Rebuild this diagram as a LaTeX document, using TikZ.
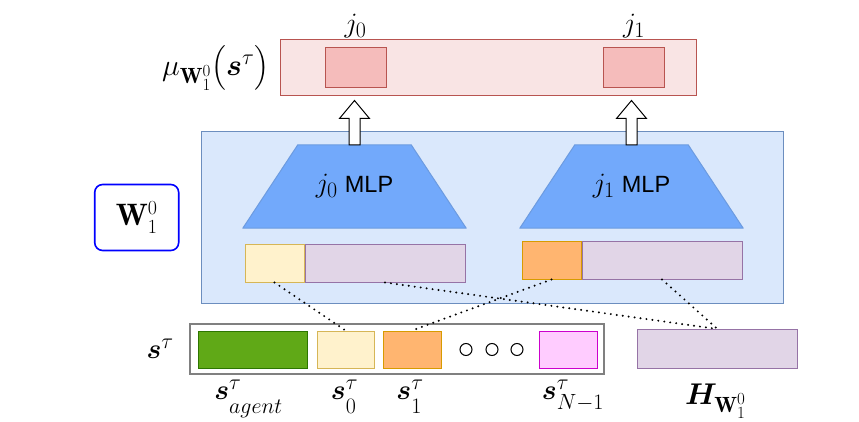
\RequirePackage{fix-cm}
\documentclass[tikz,border=0pt]{standalone}
\usepackage{amsmath,bm}
\usepackage{fontspec}
\setsansfont{Liberation Sans}
\DeclareMathSizes{28}{28}{22}{17}
\DeclareMathSizes{30}{30}{22}{17}
\DeclareMathSizes{31}{31}{20}{15}
\usetikzlibrary{positioning,calc}
\definecolor{outfill}{HTML}{F9E4E4}
\definecolor{outred}{HTML}{B85450}
\definecolor{cellred}{HTML}{F5BCBB}
\definecolor{panelfill}{HTML}{DAE8FC}
\definecolor{paneldraw}{HTML}{6C8EBF}
\definecolor{mlpfill}{HTML}{72A9FB}
\definecolor{mlpdraw}{HTML}{6C9BE0}
\definecolor{yelfill}{HTML}{FFF2CC}
\definecolor{yeldraw}{HTML}{D6B656}
\definecolor{purfill}{HTML}{E1D5E7}
\definecolor{purdraw}{HTML}{9673A6}
\definecolor{orafill}{HTML}{FFB570}
\definecolor{oradraw}{HTML}{D79B00}
\definecolor{grnfill}{HTML}{60A917}
\definecolor{grndraw}{HTML}{2D7600}
\definecolor{pnkfill}{HTML}{FFCCFF}
\definecolor{pnkdraw}{HTML}{CC00CC}
\definecolor{boxgray}{HTML}{808080}
\tikzset{
  cell/.style={draw, line width=1pt, inner sep=0pt, minimum height=38pt},
  outbar/.style={draw=outred, fill=outfill, line width=1pt, minimum width=416pt, minimum height=56pt},
  outcell/.style={cell, draw=outred, fill=cellred, minimum width=61pt, minimum height=40pt},
  panel/.style={draw=paneldraw, fill=panelfill, line width=1pt, minimum width=582pt, minimum height=171pt},
  mlpslot/.style={minimum width=223pt, minimum height=83pt, inner sep=0pt},
  mlpshape/.style={draw=mlpdraw, fill=mlpfill, line width=1pt, line join=round},
  mlplabel/.style={inner sep=1pt, font=\fontsize{23.5}{28}\selectfont},
  yelcell/.style={cell, draw=yeldraw, fill=yelfill},
  purcell/.style={cell, draw=purdraw, fill=purfill, minimum width=160pt},
  oracell/.style={cell, draw=oradraw, fill=orafill},
  sbox/.style={draw=boxgray, line width=2pt, minimum width=414pt, minimum height=50pt},
  dot/.style={circle, draw=black, line width=1pt, minimum size=12pt, inner sep=0pt},
  wbox/.style={draw=blue, line width=1.6pt, rounded corners=8pt, minimum width=84pt, minimum height=66pt,
    font=\fontsize{31}{36}\selectfont},
  mathbig/.style={inner sep=1pt, font=\fontsize{28}{34}\selectfont},
  link/.style={line width=2.2pt, line cap=round, dash pattern=on 0pt off 6pt},
  blockarrow/.style={draw=black, fill=white, line width=1pt},
}
\newcommand{\blockup}[2]{%
  \draw[blockarrow] ($(#1)+(-5.5,0)$) -- ($(#1 |- #2)+(-5.5,22)$) -- ($(#1 |- #2)+(-15,22)$)
    -- ($(#1 |- #2)+(0,4)$) -- ($(#1 |- #2)+(15,22)$) -- ($(#1 |- #2)+(5.5,22)$)
    -- ($(#1)+(5.5,0)$) -- cycle;
}
% trapezoid MLP: slot node #2 at #1, label j_#3
\newcommand{\mlpblock}[3]{%
  \node[mlpslot] (#2) at #1 {};
  \draw[mlpshape] (#2.south west) -- (#2.south east) -- ($(#2.north east)+(-55,0)$)
    -- ($(#2.north west)+(55,0)$) -- cycle;
  \node[mlplabel] (#2t) at (#2) {{\fontsize{28}{34}\selectfont$j_{#3}$} \textsf{MLP}};
}
\newcommand{\dropsub}[2]{\raisebox{-#1}{$\scriptstyle #2$}}
\begin{document}
\begin{tikzpicture}[x=1pt, y=-1pt]
\useasboundingbox (0,0) rectangle (859,422);

% output of the layer
\node[outbar] (mu) at (488,68) {};
\node[outcell] (o0) at (355.5,68) {};
\node[outcell] (o1) at (634,68) {};
\node[mathbig, anchor=south] (j0lab) at (o0 |- mu.north) {$j_0$};
\node[mathbig, anchor=south] (j1lab) at (o1 |- mu.north) {$j_1$};
\node[mathbig, font=\fontsize{30}{36}\selectfont, left=9pt of mu] (mulab) {$\mu_{\mathbf{W}_1^0}\bigl(\bm{s}^{\tau}\bigr)$};

% layer W_1^0
\node[panel] (panel) at (492,217.5) {};
\node[wbox, left=21pt of panel] (wlab) {$\mathbf{W}_1^0$};
\mlpblock{(354.5,186.5)}{mlp0}{0}
\mlpblock{(631.5,186.5)}{mlp1}{1}
\node[yelcell, minimum width=59pt] (in0) at (274.5,263) {};
\node[purcell, right=0pt of in0] (h0) {};
\node[oracell, minimum width=59pt] (in1) at (551.5,260) {};
\node[purcell, right=0pt of in1] (h1) {};
\blockup{mlp0.north}{mu.south}
\blockup{mlp1.north}{mu.south}

% state
\node[sbox] (state) at (397,349) {};
\node[mathbig, left=14pt of state] (slab) {$\bm{s}^{\tau}$};
\node[cell, draw=grndraw, fill=grnfill, minimum width=109pt, minimum height=37pt] (sag) at (252.5,349.5) {};
\node[yelcell, minimum width=57pt, minimum height=37pt, right=9pt of sag] (s0) {};
\node[oracell, minimum width=58pt, minimum height=37pt, right=8pt of s0] (s1) {};
\node[dot, right=18pt of s1] (d1) {};
\node[dot, right=13pt of d1] (d2) {};
\node[dot, right=12pt of d2] (d3) {};
\node[cell, draw=pnkdraw, fill=pnkfill, minimum width=58pt, minimum height=37pt, right=15pt of d3] (sn) {};
\node[purcell, minimum height=39pt, right=32pt of state] (hw) {};

\node[mathbig, anchor=base] (lag) at ($(sag.south)+(-4,31)$) {$\bm{s}^{\tau}_{\dropsub{7pt}{agent}}$};
\node[mathbig, anchor=base] (l0) at ($(s0.south)+(-1,31)$) {$\bm{s}^{\tau}_{\dropsub{7pt}{0}}$};
\node[mathbig, anchor=base] (l1) at ($(s1.south)+(-2,31)$) {$\bm{s}^{\tau}_{\dropsub{7pt}{1}}$};
\node[mathbig, anchor=base] (ln) at ($(sn.south)+(5,31)$) {$\bm{s}^{\tau}_{\dropsub{3pt}{N-1}}$};
\node[mathbig, font=\fontsize{30}{36}\selectfont, anchor=base] (lh) at ($(hw.south)+(-2,35)$) {$\bm{H}_{\mathbf{W}_1^0}$};

% inputs to each MLP
\draw[link] (in0.south) -- (s0.north);
\draw[link] (h0.south) -- (hw.north);
\draw[link] (in1.south) -- (s1.north);
\draw[link] (h1.south) -- (hw.north);

\end{tikzpicture}
\end{document}
